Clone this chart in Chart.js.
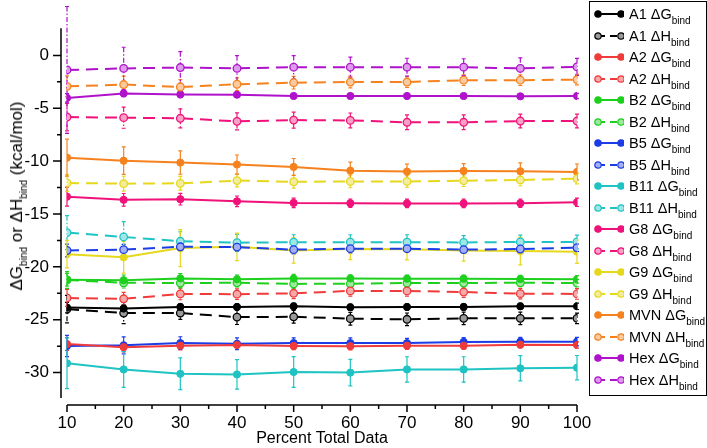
<!DOCTYPE html>
<html>
<head>
<meta charset="utf-8">
<script src="https://cdn.jsdelivr.net/npm/chart.js@4.4.0/dist/chart.umd.min.js"></script>
<style>
  html, body { margin: 0; padding: 0; background: #fff; }
  #wrap { position: relative; width: 707px; height: 448px; font-family: "Liberation Sans", Arial, sans-serif; color: #000; }
  #c { position: absolute; left: 0; top: 0; }
  #ytitle { position: absolute; left: 17px; top: 196px; transform: translate(-50%, -50%) rotate(-90deg); white-space: nowrap; font-size: 17px; }
  #legend { position: absolute; left: 589px; top: 1px; width: 118px; height: 395px; border: 1px solid #000; box-sizing: border-box; }
  .item { position: absolute; left: 4px; height: 20px; display: flex; align-items: center; font-size: 14.5px; white-space: nowrap; }
  .item svg { margin-right: 5px; }
  sub { font-size: 10px; vertical-align: -5px; line-height: 0; }
</style>
</head>
<body>
<div id="wrap">
  <canvas id="c" width="707" height="448"></canvas>
  <div id="ytitle">&Delta;G<sub>bind</sub> or &Delta;H<sub>bind</sub> (kcal/mol)</div>
  <div id="legend"></div>
</div>
<script>
// x values and tick labels
var percents = [10, 20, 30, 40, 50, 60, 70, 80, 90, 100];
var xTicks = [10, 20, 30, 40, 50, 60, 70, 80, 90, 100];
var yTicks = [-30, -25, -20, -15, -10, -5, 0];

// values (kcal/mol) and error bars
var a1G    = [-23.85, -23.94, -23.79, -23.79, -23.73, -23.82, -23.79, -23.79, -23.73, -23.73];
var a1GErr = [0.5, 0.35, 0.3, 0.3, 0.3, 0.3, 0.3, 0.3, 0.3, 0.3];
var a1H    = [-23.99, -24.37, -24.37, -24.75, -24.72, -24.9, -24.96, -24.87, -24.87, -24.87];
var a1HErr = [1.3, 1.0, 0.6, 0.7, 0.6, 0.6, 0.6, 0.6, 0.6, 0.5];
var a2G    = [-27.3, -27.59, -27.45, -27.39, -27.48, -27.5, -27.45, -27.45, -27.36, -27.39];
var a2GErr = [0.6, 0.45, 0.4, 0.4, 0.35, 0.35, 0.35, 0.35, 0.3, 0.3];
var a2H    = [-22.94, -23.02, -22.56, -22.58, -22.5, -22.27, -22.27, -22.38, -22.53, -22.56];
var a2HErr = [0.8, 0.6, 0.55, 0.5, 0.5, 0.5, 0.5, 0.5, 0.5, 0.5];
var b2G    = [-21.21, -21.27, -21.09, -21.18, -21.11, -21.1, -21.12, -21.12, -21.15, -21.18];
var b2GErr = [0.6, 0.5, 0.45, 0.4, 0.4, 0.35, 0.35, 0.35, 0.35, 0.35];
var b2H    = [-21.24, -21.5, -21.53, -21.5, -21.61, -21.6, -21.53, -21.53, -21.5, -21.53];
var b2HErr = [0.8, 0.5, 0.45, 0.4, 0.4, 0.4, 0.4, 0.35, 0.35, 0.35];
var b5G    = [-27.48, -27.42, -27.21, -27.27, -27.21, -27.21, -27.21, -27.1, -27.07, -27.07];
var b5GErr = [1.0, 0.8, 0.6, 0.55, 0.5, 0.5, 0.45, 0.4, 0.4, 0.4];
var b5H    = [-18.45, -18.37, -18.1, -18.13, -18.37, -18.28, -18.28, -18.37, -18.31, -18.19];
var b5HErr = [0.6, 0.5, 0.4, 0.4, 0.4, 0.4, 0.35, 0.35, 0.35, 0.35];
var b11G    = [-29.12, -29.7, -30.11, -30.17, -29.94, -30.0, -29.7, -29.7, -29.59, -29.53];
var b11GErr = [2.4, 1.7, 1.5, 1.4, 1.45, 1.25, 1.2, 1.2, 1.2, 1.15];
var b11H    = [-16.76, -17.17, -17.58, -17.72, -17.66, -17.66, -17.66, -17.69, -17.64, -17.64];
var b11HErr = [1.6, 1.45, 0.9, 0.8, 0.7, 0.7, 0.7, 0.65, 0.65, 0.65];
var g8G    = [-13.36, -13.66, -13.6, -13.8, -13.95, -13.98, -14.0, -14.0, -13.98, -13.89];
var g8GErr = [0.9, 0.6, 0.55, 0.5, 0.45, 0.4, 0.4, 0.4, 0.4, 0.4];
var g8H    = [-5.83, -5.89, -5.95, -6.24, -6.12, -6.15, -6.33, -6.33, -6.21, -6.21];
var g8HErr = [1.3, 1.0, 0.9, 0.8, 0.75, 0.7, 0.7, 0.7, 0.65, 0.65];
var g9G    = [-18.8, -19.1, -18.22, -18.1, -18.45, -18.31, -18.34, -18.45, -18.51, -18.57];
var g9GErr = [1.3, 1.5, 1.75, 1.3, 1.2, 1.0, 1.0, 1.0, 1.3, 1.1];
var g9H    = [-12.07, -12.13, -12.1, -11.84, -11.95, -11.92, -11.92, -11.85, -11.78, -11.66];
var g9HErr = [0.8, 0.7, 0.65, 0.6, 0.6, 0.6, 0.55, 0.55, 0.55, 0.5];
var mvnG    = [-9.67, -9.96, -10.14, -10.32, -10.55, -10.9, -10.99, -10.93, -10.96, -11.02];
var mvnGErr = [1.75, 1.3, 1.1, 0.9, 0.8, 0.8, 0.7, 0.7, 0.8, 0.75];
var mvnH    = [-2.93, -2.76, -2.99, -2.73, -2.58, -2.52, -2.52, -2.35, -2.35, -2.29];
var mvnHErr = [1.0, 0.8, 0.7, 0.6, 0.6, 0.55, 0.5, 0.5, 0.5, 0.5];
var hexG    = [-4.02, -3.6, -3.69, -3.72, -3.84, -3.84, -3.84, -3.84, -3.87, -3.84];
var hexGErr = [0.4, 0.3, 0.3, 0.25, 0.25, 0.25, 0.25, 0.25, 0.25, 0.25];
var hexH    = [-1.38, -1.23, -1.15, -1.23, -1.12, -1.12, -1.12, -1.12, -1.23, -1.09];
var hexHErr = [6.0, 2.0, 1.5, 1.2, 1.1, 0.95, 0.85, 0.8, 1.0, 0.8];

var systems = ['A1', 'A2', 'B2', 'B5', 'B11', 'G8', 'G9', 'MVN', 'Hex'];
var gValues = [a1G, a2G, b2G, b5G, b11G, g8G, g9G, mvnG, hexG];
var gErrors = [a1GErr, a2GErr, b2GErr, b5GErr, b11GErr, g8GErr, g9GErr, mvnGErr, hexGErr];
var hValues = [a1H, a2H, b2H, b5H, b11H, g8H, g9H, mvnH, hexH];
var hErrors = [a1HErr, a2HErr, b2HErr, b5HErr, b11HErr, g8HErr, g9HErr, mvnHErr, hexHErr];

var colors = ['#000000', '#ef3b3b', '#1ed01e', '#1c3ce6', '#1fc3c3', '#f0127a', '#e6d81c', '#f5821e', '#b012cc'];
var paleFill = ['#9a9a9a', '#f7a8a8', '#9fe89f', '#a3b1f4', '#a1e6e6', '#f8a0c6', '#f2ec9c', '#facba0', '#dc9cea'];

var FONT = '"Liberation Sans", Arial, sans-serif';

function pts(vals) {
  return percents.map(function(p, i) { return { x: p, y: vals[i] }; });
}

var datasets = [];
systems.forEach(function(name, k) {
  datasets.push({
    label: name + ' ΔGbind',
    data: pts(gValues[k]),
    errors: gErrors[k],
    dashed: false,
    borderColor: colors[k],
    backgroundColor: colors[k],
    borderWidth: 2,
    pointRadius: 3.6,
    pointBackgroundColor: colors[k],
    pointBorderColor: colors[k],
    pointBorderWidth: 1
  });
  datasets.push({
    label: name + ' ΔHbind',
    data: pts(hValues[k]),
    errors: hErrors[k],
    dashed: true,
    borderColor: colors[k],
    backgroundColor: paleFill[k],
    borderWidth: 2,
    borderDash: [12, 7],
    pointRadius: 3.8,
    pointBackgroundColor: paleFill[k],
    pointBorderColor: colors[k],
    pointBorderWidth: 1.3
  });
});

// error bars drawn from the dataset values through the y scale
var errorBars = {
  id: 'errorBars',
  beforeDatasetsDraw: function(chart) {
    var ctx = chart.ctx, ys = chart.scales.y;
    ctx.save();
    chart.data.datasets.forEach(function(ds, i) {
      var meta = chart.getDatasetMeta(i);
      var pattern = ds.dashed ? [5, 2, 1.5, 2] : [];
      ctx.strokeStyle = ds.borderColor;
      ctx.lineWidth = 1.2;
      meta.data.forEach(function(pt, j) {
        var v = ds.data[j].y, e = ds.errors[j];
        var y1 = ys.getPixelForValue(v + e), y2 = ys.getPixelForValue(v - e);
        ctx.setLineDash(pattern);
        ctx.beginPath();
        ctx.moveTo(pt.x, y1); ctx.lineTo(pt.x, y2);
        ctx.stroke();
        ctx.setLineDash([]);
        ctx.beginPath();
        ctx.moveTo(pt.x - 2, y1); ctx.lineTo(pt.x + 2, y1);
        ctx.moveTo(pt.x - 2, y2); ctx.lineTo(pt.x + 2, y2);
        ctx.stroke();
      });
    });
    ctx.restore();
  }
};

// detached axes with major and minor ticks
var axesLines = {
  id: 'axesLines',
  afterDraw: function(chart) {
    var ctx = chart.ctx, xs = chart.scales.x, ys = chart.scales.y, a = chart.chartArea;
    ctx.save();
    ctx.strokeStyle = '#000';
    ctx.lineWidth = 1.5;
    var ax = a.left - 6;
    ctx.beginPath();
    ctx.moveTo(ax, a.top); ctx.lineTo(ax, a.bottom);
    yTicks.forEach(function(v) {
      var y = ys.getPixelForValue(v);
      ctx.moveTo(ax - 8, y); ctx.lineTo(ax, y);
      var m = ys.getPixelForValue(v - 2.5);
      if (m <= a.bottom) { ctx.moveTo(ax - 4, m); ctx.lineTo(ax, m); }
    });
    var ay = a.bottom + 7;
    ctx.moveTo(xs.getPixelForValue(10), ay); ctx.lineTo(xs.getPixelForValue(100), ay);
    xTicks.forEach(function(v) {
      var x = xs.getPixelForValue(v);
      ctx.moveTo(x, ay); ctx.lineTo(x, ay + 7);
      if (v < 100) { var m = xs.getPixelForValue(v + 5); ctx.moveTo(m, ay); ctx.lineTo(m, ay + 4); }
    });
    ctx.stroke();
    ctx.restore();
  }
};

var ctx = document.getElementById('c').getContext('2d');
var chart = new Chart(ctx, {
  type: 'line',
  data: { datasets: datasets },
  options: {
    responsive: false,
    animation: false,
    layout: { padding: { left: 0, right: 130, top: 0, bottom: 0 } },
    plugins: { legend: { display: false }, tooltip: { enabled: false } },
    scales: {
      x: {
        type: 'linear', min: 10, max: 100,
        grid: { display: false, drawTicks: false },
        border: { display: false },
        afterBuildTicks: function(s) { s.ticks = xTicks.map(function(v) { return { value: v }; }); },
        afterFit: function(s) { s.height = 50; },
        ticks: { padding: 15, color: '#000', maxRotation: 0, font: { family: FONT, size: 17 } },
        title: { display: true, text: 'Percent Total Data', color: '#000', font: { family: FONT, size: 16 }, padding: { top: 0, bottom: 0 } }
      },
      y: {
        min: -32.4, max: 2.57,
        grid: { display: false, drawTicks: false },
        border: { display: false },
        afterBuildTicks: function(s) { s.ticks = yTicks.map(function(v) { return { value: v }; }); },
        afterFit: function(s) { s.width = 67; },
        ticks: { padding: 18, color: '#000', font: { family: FONT, size: 17 } }
      }
    }
  },
  plugins: [errorBars, axesLines]
});

// legend built from the datasets
var legend = document.getElementById('legend');
datasets.forEach(function(ds, i) {
  var item = document.createElement('div');
  item.className = 'item';
  item.style.top = (2 + i * 21.5) + 'px';
  var dash = ds.dashed ? ' stroke-dasharray="7 5"' : '';
  var fill = ds.dashed ? ds.pointBackgroundColor : ds.borderColor;
  item.innerHTML =
    '<svg width="30" height="12"><line x1="4" y1="6" x2="27" y2="6" stroke="' + ds.borderColor + '" stroke-width="2"' + dash + '/>' +
    '<circle cx="4" cy="6" r="3.2" fill="' + fill + '" stroke="' + ds.borderColor + '" stroke-width="1.2"/>' +
    '<circle cx="27" cy="6" r="3.2" fill="' + fill + '" stroke="' + ds.borderColor + '" stroke-width="1.2"/></svg>' +
    '<span>' + ds.label.replace('bind', '') + '<sub>bind</sub></span>';
  legend.appendChild(item);
});
</script>
</body>
</html>
